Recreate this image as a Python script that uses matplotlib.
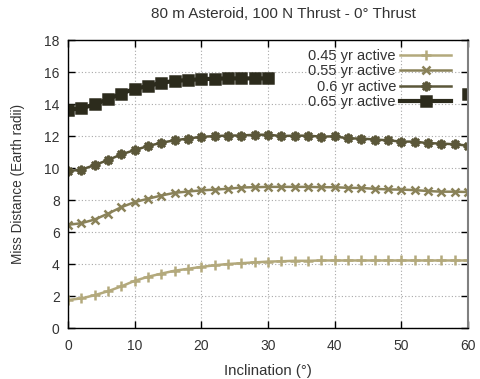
import numpy as np
import matplotlib
matplotlib.use("Agg")
import matplotlib.pyplot as plt

plt.rcParams['font.family'] = ['Liberation Sans', 'DejaVu Sans']

inclination = list(range(0, 61, 2))

miss_045 = [1.75, 1.85, 2.05, 2.3, 2.6, 2.95, 3.2, 3.4, 3.58, 3.7, 3.82,
            3.92, 4.0, 4.05, 4.1, 4.15, 4.17, 4.2, 4.2, 4.22, 4.22, 4.22,
            4.22, 4.22, 4.22, 4.22, 4.22, 4.22, 4.22, 4.22, 4.22]
miss_055 = [6.45, 6.55, 6.78, 7.15, 7.55, 7.87, 8.08, 8.28, 8.45, 8.53, 8.6,
            8.65, 8.7, 8.78, 8.8, 8.82, 8.82, 8.82, 8.82, 8.8, 8.8, 8.76,
            8.75, 8.7, 8.66, 8.65, 8.62, 8.56, 8.52, 8.52, 8.5]
miss_060 = [9.8, 9.9, 10.18, 10.5, 10.85, 11.12, 11.37, 11.58, 11.73, 11.84,
            11.95, 11.99, 12.03, 12.03, 12.08, 12.08, 12.0, 12.02, 12.02, 11.96,
            11.98, 11.85, 11.84, 11.78, 11.73, 11.65, 11.65, 11.55, 11.53, 11.48, 11.4]
miss_065 = [13.65, 13.72, 13.98, 14.3, 14.65, 14.95, 15.12, 15.33, 15.44, 15.5,
            15.55, 15.58, 15.6, 15.6, 15.6, 15.6] + [np.nan] * 14 + [14.6]

# label, values, colour, marker, line width, marker size
series = [
    ("0.45 yr active", miss_045, "#b3a97c", "+", 1.8, 7),
    ("0.55 yr active", miss_055, "#8a8259", "x", 1.8, 6),
    ("0.6 yr active", miss_060, "#5b5739", (8, 2, 0), 1.8, 7),
    ("0.65 yr active", miss_065, "#2c2b1c", "s", 3.0, 6.5),
]

fig = plt.figure(figsize=(4.8, 3.79), dpi=100)
ax = fig.add_axes([68 / 480, 1 - 328 / 379, 400 / 480, 288 / 379])

for label, vals, color, marker, lw, ms in series:
    ax.plot(inclination, vals, color=color, lw=lw, marker=marker,
            ms=ms, mew=1.8, label=label)

ax.set_xlim(0, 60)
ax.set_ylim(0, 18)
ax.set_xticks(range(0, 61, 10))
ax.set_yticks(range(0, 19, 2))
ax.grid(True, color="#a8a8a8", linestyle=(0, (1, 2)), linewidth=0.8)
ax.tick_params(direction="in", top=True, right=True, length=5, width=1,
               labelsize=10, labelcolor="#333333", color="#000000")
ax.tick_params(axis="x", pad=8)
ax.tick_params(axis="y", pad=6)
for side in ("left", "bottom", "top"):
    ax.spines[side].set_color("black")
    ax.spines[side].set_linewidth(1)
ax.spines["right"].set_color("#808080")
ax.spines["right"].set_linewidth(1.5)

ax.set_xlabel("Inclination (°)", fontsize=10.8, color="#333333", labelpad=8)
ax.set_ylabel("Miss Distance (Earth radii)", fontsize=9.8, color="#333333", labelpad=14)
fig.text(0.59, 0.963, "80 m Asteroid, 100 N Thrust - 0° Thrust", fontsize=11,
         color="#333333", ha="center", va="center")

leg = ax.legend(loc="upper right", bbox_to_anchor=(0.973, 0.99),
                markerfirst=False, frameon=False,
                fontsize=10.5, handlelength=3.5, labelspacing=0.1,
                borderaxespad=0.0, handletextpad=0.3)
for t in leg.get_texts():
    t.set_color("#333333")

fig.savefig("out.png", dpi=100)
